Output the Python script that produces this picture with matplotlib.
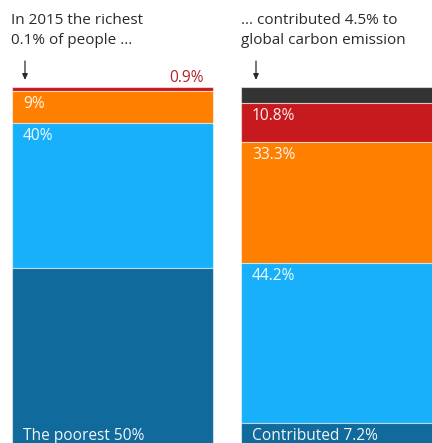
import matplotlib.pyplot as plt
import matplotlib as mpl

plt.rcParams['font.family'] = ['Open Sans', 'DejaVu Sans']

# Share of population (left) and share of carbon emissions (right), top to bottom
groups = ["Richest 0.1%", "Next 0.9%", "Next 9%", "Middle 40%", "Poorest 50%"]
population_share = [0.1, 0.9, 9, 40, 50]
emission_share = [4.5, 10.8, 33.3, 44.2, 7.2]
colors = ["#333333", "#c71a1f", "#ff7f00", "#19b0fb", "#116a9c"]

population_labels = [None, None, "9%", "40%", "The poorest 50%"]
emission_labels = [None, "10.8%", "33.3%", "44.2%", "Contributed 7.2%"]

W, H = 432, 443
fig = plt.figure(figsize=(W / 100, H / 100), dpi=100)

bar_top = 87          # px from top of figure
px_per_pct = 3.62
visible_pct = (H - bar_top) / px_per_pct


def make_axes(x0, x1):
    ax = fig.add_axes([x0 / W, 0, (x1 - x0) / W, (H - bar_top) / H])
    ax.set_xlim(0, 1)
    ax.set_ylim(visible_pct, 0)
    ax.axis("off")
    return ax


def draw_stack(ax, values):
    start = 0
    tops = []
    for v, c in zip(values, colors):
        ax.bar(0.5, v, bottom=start, width=1, color=c,
               edgecolor=(1, 1, 1, 0.55), linewidth=0.8, clip_on=False)
        tops.append(start)
        start += v
    return tops


ax_l = make_axes(12, 212.7)
ax_r = make_axes(241, 436)

tops_l = draw_stack(ax_l, population_share)
tops_r = draw_stack(ax_r, emission_share)

FS = 11.2
label_kw = dict(color="white", alpha=0.94, fontsize=FS, va="top", ha="left")
pad_x = 11 / 200.7
for lab, t in zip(population_labels[:-1], tops_l[:-1]):
    if lab:
        ax_l.text(pad_x, t + 1.4, lab, **label_kw)
pad_xr = 11 / 195
for lab, t in zip(emission_labels, tops_r):
    if lab:
        ax_r.text(pad_xr, t + 1.4, lab, **label_kw)

# bottom group label shares its baseline with the right-hand one
ax_l.text(pad_x, tops_r[-1] + 1.4, population_labels[-1], **label_kw)

# value of the thin red slice, written above the bar
ax_l.text(0.955, -0.3, "0.9%", color="#b52228", fontsize=FS,
          ha="right", va="bottom")

# headings
head_kw = dict(fontsize=11.0, color="#2a2a2a", va="top", ha="left",
               linespacing=1.45)
fig.text(11 / W, 1 - 13.5 / H, "In 2015 the richest\n0.1% of people ...", **head_kw)
fig.text(241 / W, 1 - 13.5 / H, "... contributed 4.5% to\nglobal carbon emission",
         **head_kw)

# pointer arrows
for x in (25, 256):
    fig.add_artist(mpl.patches.FancyArrowPatch(
        (x / W, 1 - 61 / H), (x / W, 1 - 80 / H),
        transform=fig.transFigure, arrowstyle="-|>,head_length=3.5,head_width=1.6",
        shrinkA=0, shrinkB=0, color="#2a2a2a", linewidth=0.9))

fig.savefig("out.png", dpi=100)
